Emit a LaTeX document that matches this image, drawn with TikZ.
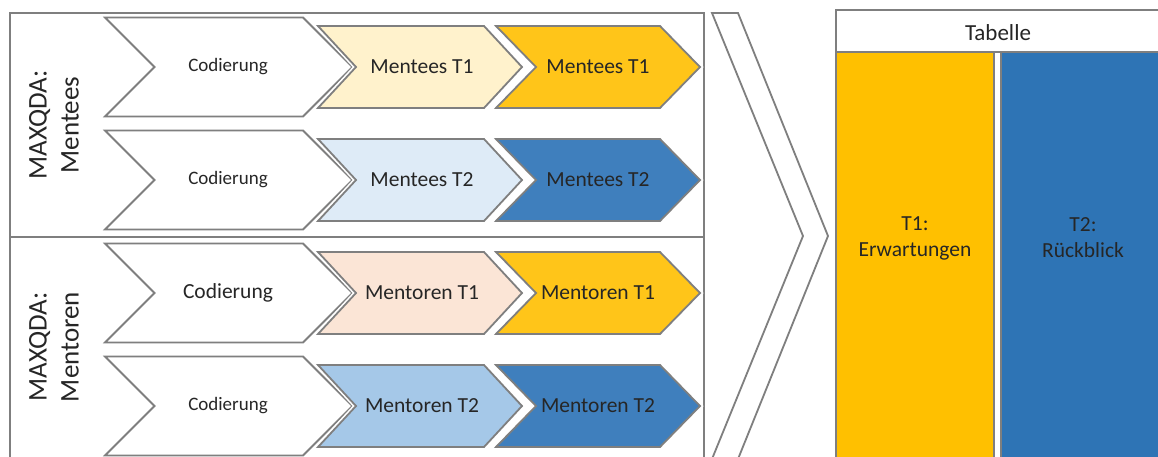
\documentclass[tikz,border=0pt]{standalone}
\usepackage{fontspec}
\setmainfont{Carlito}
\definecolor{bordergray}{HTML}{7F7F7F}
\definecolor{lightyellow}{HTML}{FFF2CC}
\definecolor{chevgold}{HTML}{FFC519}
\definecolor{tabgold}{HTML}{FFC000}
\definecolor{lightblue}{HTML}{DEEBF7}
\definecolor{midblue}{HTML}{A5C8E8}
\definecolor{chevblue}{HTML}{3F7FBD}
\definecolor{tabblue}{HTML}{2E74B5}
\definecolor{peach}{HTML}{FBE5D6}
\tikzset{
  panel/.style={draw=bordergray, line width=2pt, fill=white},
  chev/.style={draw=bordergray, line width=1.8pt, line join=miter,
    preaction={draw=white, line width=5pt}},
  txt/.style={inner sep=0pt, font=\fontsize{21.5}{26}\selectfont, text=black!85},
  smalltxt/.style={inner sep=0pt, font=\fontsize{19}{23}\selectfont, text=black!85},
  sidetxt/.style={inner sep=0pt, align=center, rotate=90, font=\fontsize{27}{32}\selectfont, text=black!85},
  coltxt/.style={inner sep=0pt, align=center, font=\fontsize{21.5}{26}\selectfont, text=black!85},
}
% big chevron: #1 center y, #2 left x, #3 corner x, #4 half height, #5 depth, #6 fill
\newcommand{\chevshape}[6]{%
  \path[chev, fill=#6] (#2,#1-#4) -- (#3,#1-#4) -- (#3+#5,#1) -- (#3,#1+#4) -- (#2,#1+#4) -- (#2+#5,#1) -- cycle;}
\begin{document}
\begin{tikzpicture}[x=1pt,y=-1pt]
\useasboundingbox (0,0) rectangle (1158,456);
\clip (0,0) rectangle (1158,456);
\fill[white] (0,0) rectangle (1158,456);

% panels
\draw[panel] (9.5,13) rectangle (704,237);
\draw[panel] (9.5,237) rectangle (704,475);
\node[sidetxt] (lblA) at (54,125) {MAXQDA:\\Mentees};
\node[sidetxt] (lblB) at (54,347) {MAXQDA:\\Mentoren};

% rows
\foreach \cy/\fa/\fb/\la/\lb/\ct [count=\i] in
  {67/lightyellow/chevgold/Mentees T1/Mentees T1/small,
   180/lightblue/chevblue/Mentees T2/Mentees T2/small,
   293/peach/chevgold/Mentoren T1/Mentoren T1/big,
   406/midblue/chevblue/Mentoren T2/Mentoren T2/small}{
  \chevshape{\cy}{105}{303}{49.5}{49.5}{white}
  \chevshape{\cy}{318}{484}{41}{38}{\fa}
  \chevshape{\cy}{496}{660}{41}{40}{\fb}
  \ifnum\i=3
    \node[txt] (cod\i) at (228,\cy) {Codierung};
  \else
    \node[smalltxt] (cod\i) at (228,\cy) {Codierung};
  \fi
  \node[txt] (lt\i) at (422,\cy) {\la};
  \node[txt] (dk\i) at (598,\cy) {\lb};
}

% big chevron
\path[draw=bordergray, line width=1.8pt, fill=white, line join=miter]
  (712,13) -- (738,13) -- (828,236) -- (738,459) -- (712,459) -- (803,236) -- cycle;

% table
\draw[draw=bordergray, line width=2pt, fill=white] (836,10) rectangle (1170,52);
\node[inner sep=0pt, font=\fontsize{23}{27}\selectfont, text=black!85] (tab) at (998,33) {Tabelle};
\draw[draw=bordergray, line width=2pt, fill=tabgold] (836,52) rectangle (994,470);
\draw[draw=bordergray, line width=2pt, fill=tabblue] (1001,52) rectangle (1170,470);
\node[coltxt] (c1) at (915,238) {T1:\\Erwartungen};
\node[coltxt] (c2) at (1083,238) {T2:\\Rückblick};
\end{tikzpicture}
\end{document}
